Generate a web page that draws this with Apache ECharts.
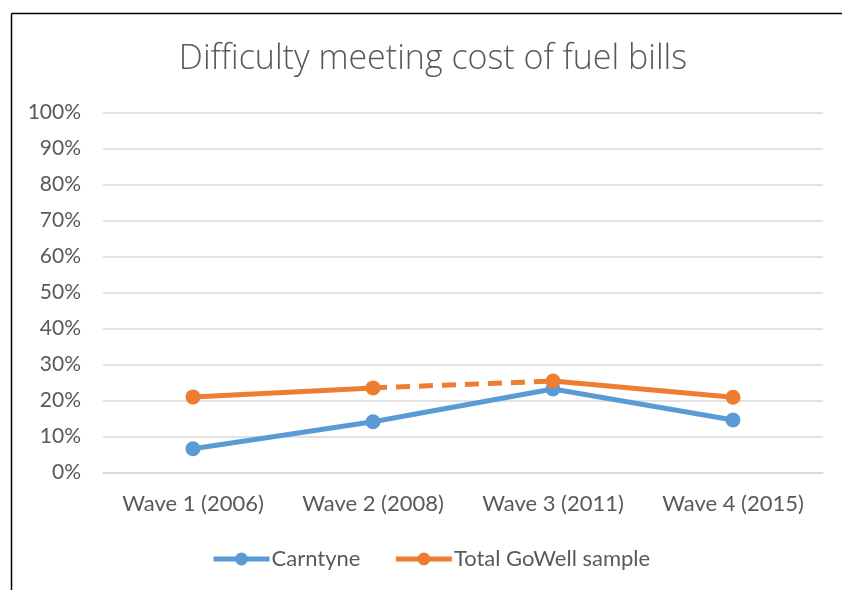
<!DOCTYPE html>
<html>
<head>
<meta charset="utf-8">
<script src="https://cdn.jsdelivr.net/npm/echarts@6/dist/echarts.min.js"></script>
<style>
html,body{margin:0;padding:0;background:#fff;}
#chart{width:842px;height:590px;}
</style>
</head>
<body>
<div id="chart"></div>
<script>
var categories = ['Wave 1 (2006)', 'Wave 2 (2008)', 'Wave 3 (2011)', 'Wave 4 (2015)'];
var carntyne = [6.6, 14.1, 23.2, 14.6];
var totalGoWell = [21.0, 23.5, 25.4, 20.9];
var yTicks = [0, 10, 20, 30, 40, 50, 60, 70, 80, 90, 100];

var blue = '#5B9BD5', orange = '#ED7D31', txt = '#595959';
var font = 'Lato';

function pick(arr, idx) {
  return arr.map(function (v, i) { return idx.indexOf(i) >= 0 ? v : '-'; });
}

var chart = echarts.init(document.getElementById('chart'));
chart.setOption({
  animation: false,
  title: {
    text: 'Difficulty meeting cost of fuel bills',
    left: 428, top: 37, textAlign: 'center',
    textStyle: { fontFamily: 'Open Sans', fontSize: 34, fontWeight: 300, color: txt }
  },
  graphic: [
    { type: 'line', shape: { x1: 11.5, y1: 13.5, x2: 842, y2: 13.5 }, style: { stroke: '#000', lineWidth: 1.5 } },
    { type: 'line', shape: { x1: 11.5, y1: 13.5, x2: 11.5, y2: 590 }, style: { stroke: '#000', lineWidth: 1.5 } }
  ],
  legend: {
    data: ['Carntyne', 'Total GoWell sample'],
    left: 206, top: 543,
    itemWidth: 56, itemHeight: 16, itemGap: 33,
    lineStyle: { width: 5 },
    textStyle: { fontFamily: font, fontSize: 22, color: txt, padding: [0, 0, 0, -3] }
  },
  grid: { left: 103, right: 19, top: 112.5, bottom: 117.5, containLabel: false },
  xAxis: {
    type: 'category', data: categories, boundaryGap: true,
    axisLine: { show: true, lineStyle: { color: '#d9d9d9', width: 1.5 } },
    axisTick: { show: false },
    axisLabel: { fontFamily: font, fontSize: 22, color: txt, margin: 20, interval: 0 }
  },
  yAxis: {
    type: 'value', min: yTicks[0], max: yTicks[yTicks.length - 1], interval: 10,
    axisLine: { show: false }, axisTick: { show: false },
    splitLine: { lineStyle: { color: '#d9d9d9', width: 1.5 } },
    axisLabel: { fontFamily: font, fontSize: 21, color: txt, margin: 22, formatter: '{value}%' }
  },
  series: [
    { name: 'Carntyne', type: 'line', data: carntyne, symbol: 'circle', symbolSize: 15,
      lineStyle: { color: blue, width: 5 }, itemStyle: { color: blue }, z: 2 },
    { name: 'Total GoWell sample', type: 'line', data: pick(totalGoWell, [0, 1]), symbol: 'circle', symbolSize: 15,
      lineStyle: { color: orange, width: 5 }, itemStyle: { color: orange }, z: 3 },
    { name: 'Total GoWell sample', type: 'line', data: pick(totalGoWell, [1, 2]), symbol: 'none',
      lineStyle: { color: orange, width: 5, type: [14, 9] }, itemStyle: { color: orange }, z: 3 },
    { name: 'Total GoWell sample', type: 'line', data: pick(totalGoWell, [2, 3]), symbol: 'circle', symbolSize: 15,
      lineStyle: { color: orange, width: 5 }, itemStyle: { color: orange }, z: 3 }
  ]
});
</script>
</body>
</html>
